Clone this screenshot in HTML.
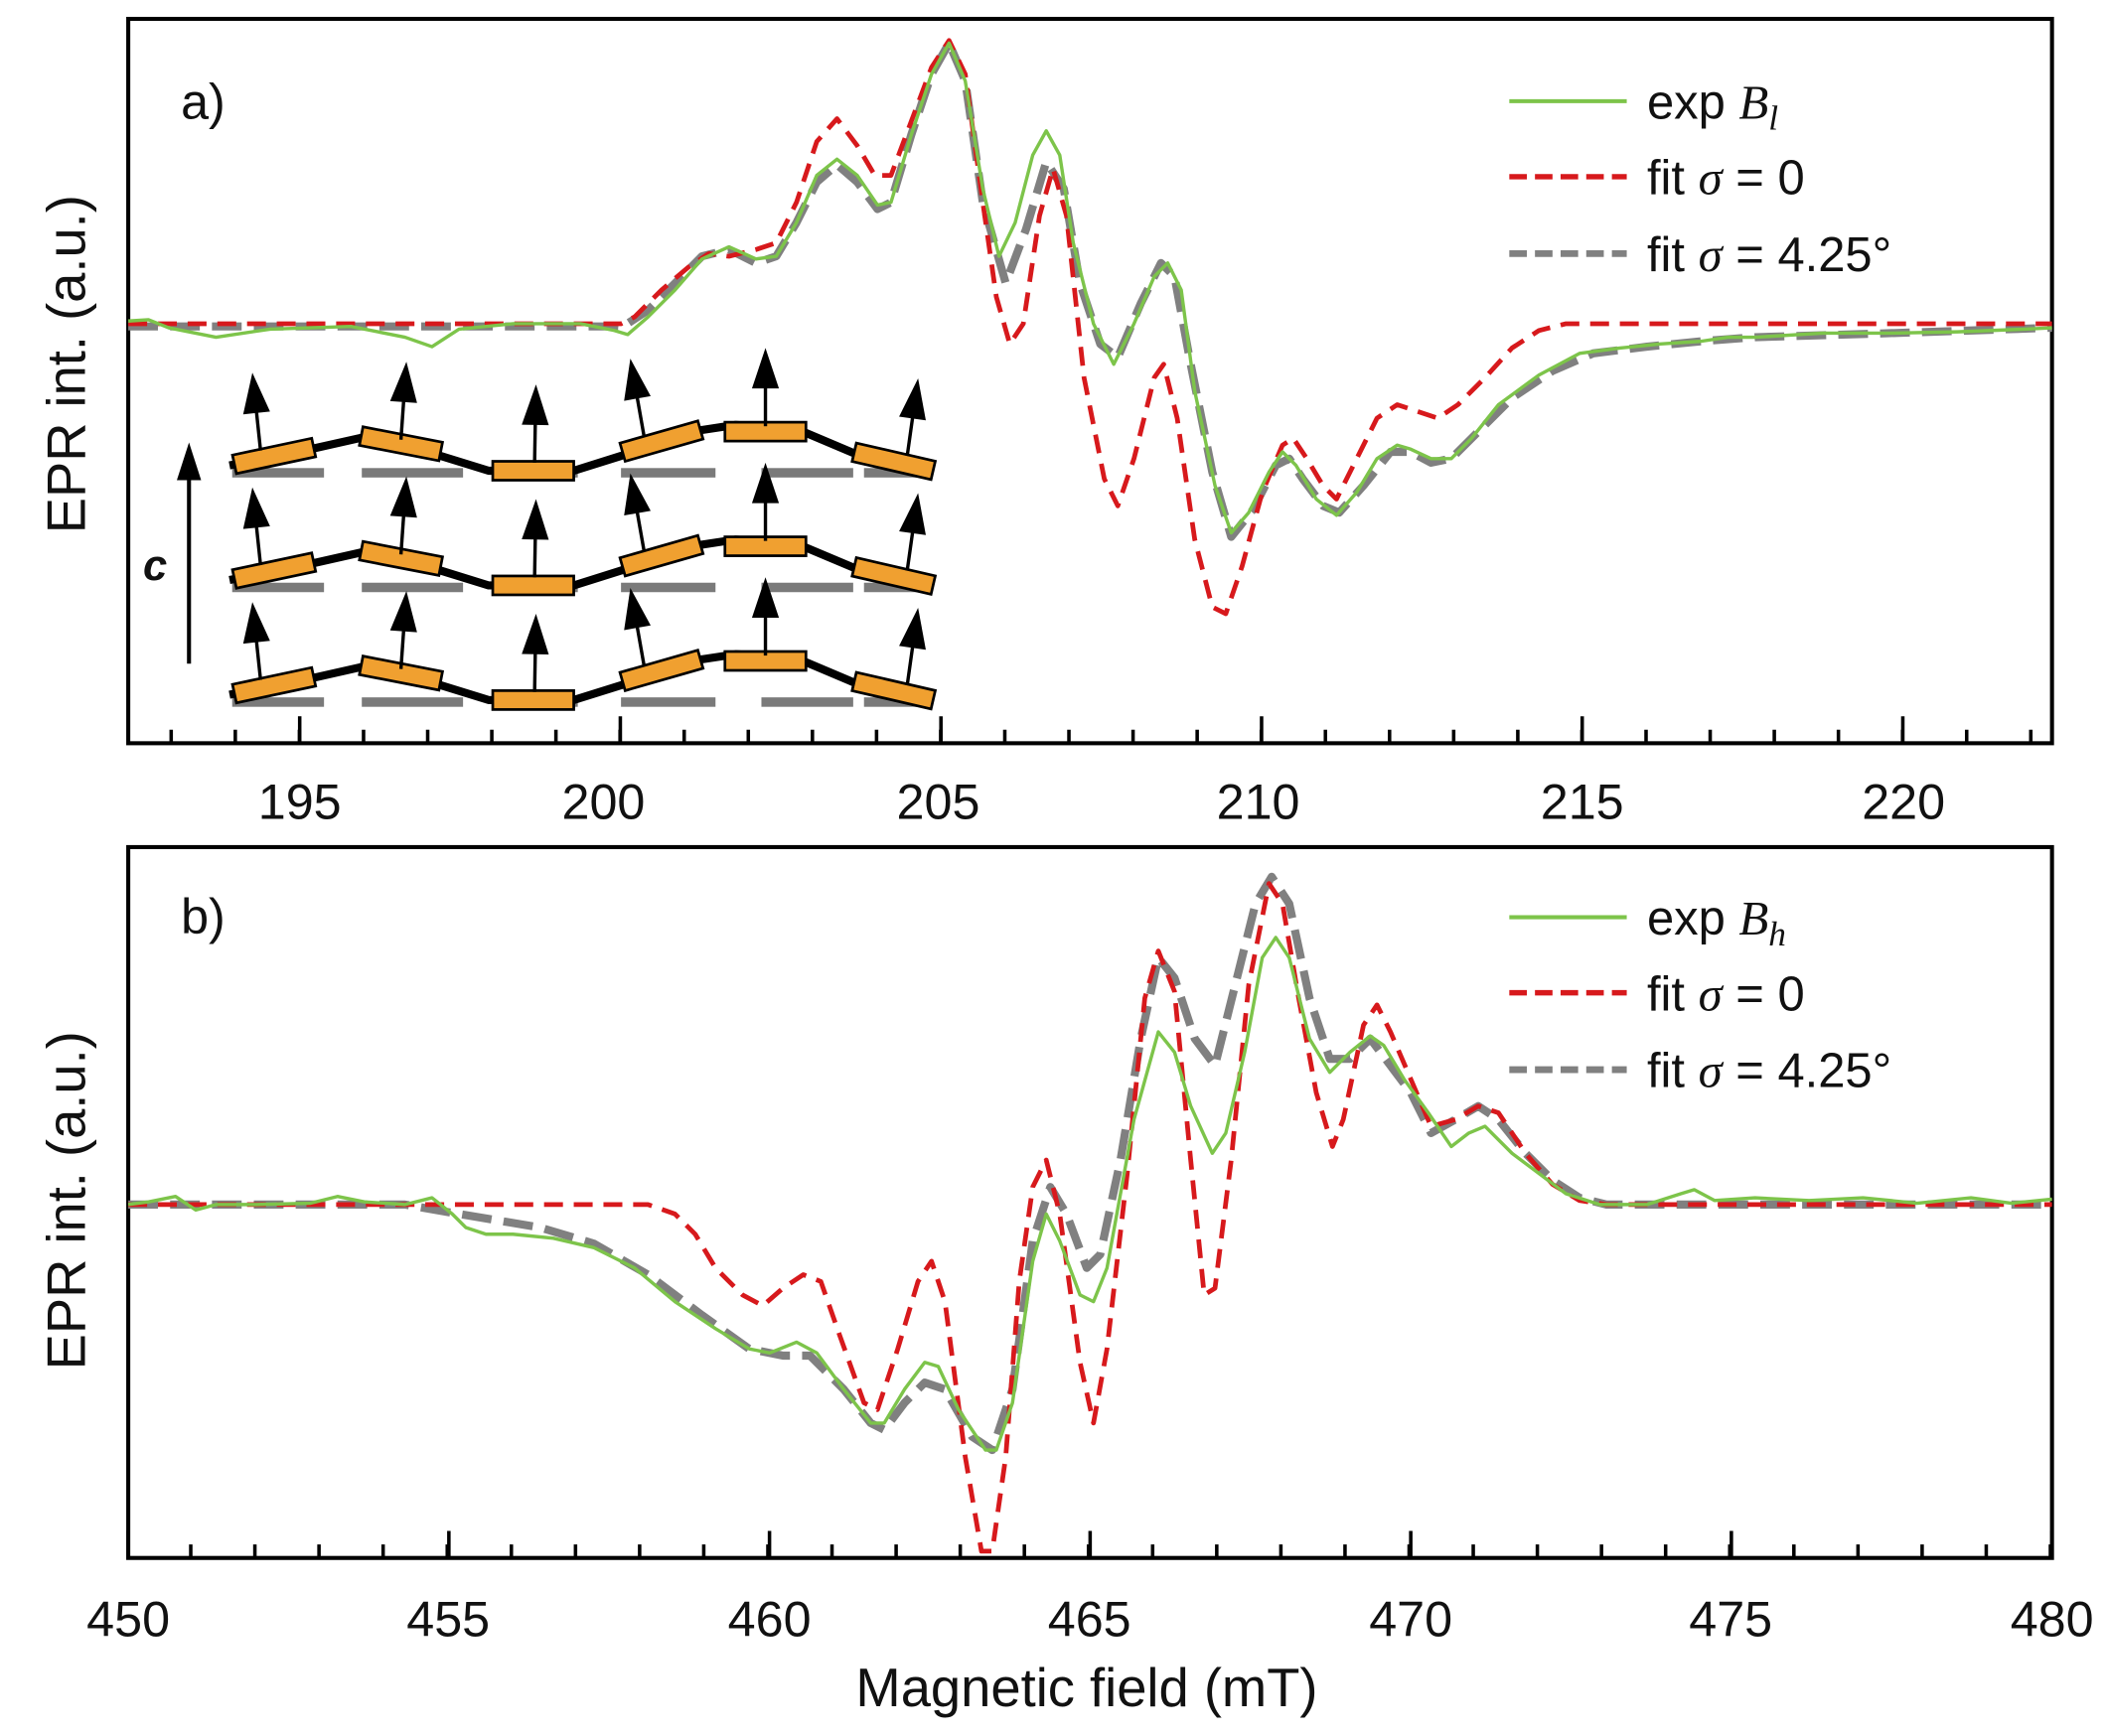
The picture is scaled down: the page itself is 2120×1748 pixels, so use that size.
<!DOCTYPE html>
<html><head><meta charset="utf-8"><style>
html,body{margin:0;padding:0;background:#fff}
svg{display:block}
text{font-family:"Liberation Sans",sans-serif;fill:#111}
</style></head><body>
<svg width="2120" height="1748" viewBox="0 0 1560 1287" preserveAspectRatio="none" xmlns="http://www.w3.org/2000/svg">
<defs>
<g id="arrow">
<line x1="0" y1="0" x2="0" y2="-36" stroke="#000" stroke-width="2.5"/>
<polygon points="-10,-28 10,-28 0,-58" fill="#000"/>
</g>
<g id="row">
<g fill="#7a7a7a">
<rect x="172" y="347" width="68" height="7"/><rect x="268" y="347" width="75" height="7"/>
<rect x="368" y="347" width="60" height="7"/><rect x="460" y="347" width="70" height="7"/>
<rect x="564" y="347" width="68" height="7"/><rect x="640" y="347" width="50" height="7"/>
</g>
<polyline points="170,345 230,333 270,324 320,336 362,349 425,349 460,338 512,320 545,315 590,318 635,337 690,348" fill="none" stroke="#000" stroke-width="6" stroke-linejoin="round"/>
<g fill="#f0a030" stroke="#000" stroke-width="2">
<rect x="-30" y="-7" width="60" height="14" transform="translate(203,338) rotate(-12)"/>
<rect x="-30" y="-7" width="60" height="14" transform="translate(297,329) rotate(11)"/>
<rect x="-30" y="-7" width="60" height="14" transform="translate(395,349)"/>
<rect x="-30" y="-7" width="60" height="14" transform="translate(490,327) rotate(-16)"/>
<rect x="-30" y="-7" width="60" height="14" transform="translate(567,320)"/>
<rect x="-30" y="-7" width="60" height="14" transform="translate(662,342) rotate(13)"/>
</g>
<use href="#arrow" transform="translate(193,334) rotate(-6)"/>
<use href="#arrow" transform="translate(297,326) rotate(4)"/>
<use href="#arrow" transform="translate(396,343) rotate(1)"/>
<use href="#arrow" transform="translate(477,323) rotate(-10)"/>
<use href="#arrow" transform="translate(567,316)"/>
<use href="#arrow" transform="translate(672,338) rotate(8)"/>
</g>
</defs>

<!-- Panel a -->
<rect x="95" y="14" width="1425" height="537" fill="none" stroke="#000" stroke-width="3"/>
<line x1="125.5" y1="546" x2="1520" y2="546" stroke="#000" stroke-width="10" stroke-dasharray="2.6 44.9"/>
<line x1="220.7" y1="541" x2="1520" y2="541" stroke="#000" stroke-width="20" stroke-dasharray="2.6 234.9"/>
<g font-size="37" text-anchor="middle">
<text x="222" y="607">195</text><text x="447" y="607">200</text><text x="695" y="607">205</text>
<text x="932" y="607">210</text><text x="1172" y="607">215</text><text x="1410" y="607">220</text>
</g>
<text x="134" y="88" font-size="37">a)</text>
<text transform="translate(63,270) rotate(-90)" font-size="40" text-anchor="middle">EPR int. (a.u.)</text>

<use href="#row"/>
<use href="#row" transform="translate(0,85)"/>
<use href="#row" transform="translate(0,170)"/>
<line x1="140" y1="492" x2="140" y2="350" stroke="#000" stroke-width="3"/>
<polygon points="131,356 149,356 140,328" fill="#000"/>
<text x="106" y="430" font-size="32" font-weight="bold" font-style="italic">c</text>

<polyline fill="none" stroke="#808080" stroke-width="6" stroke-dasharray="22 9" stroke-linejoin="round" points="95,242 450,242 460,243 480,230 500,210 520,190 540,185 560,195 575,190 590,165 605,135 620,122 635,135 650,155 660,150 675,100 690,55 703,32 715,60 728,150 745,210 760,170 775,120 788,140 800,210 815,255 828,265 845,225 860,195 870,205 882,270 898,350 912,398 928,378 945,345 955,340 965,355 980,375 992,380 1010,360 1030,335 1045,335 1060,343 1075,340 1095,320 1120,295 1150,275 1180,262 1220,257 1260,253 1300,250 1400,247 1520,243"/>
<polyline fill="none" stroke="#d7191c" stroke-width="3.5" stroke-dasharray="14 8" stroke-linejoin="round" points="95,240 460,240 470,235 490,215 510,198 525,188 540,190 560,185 575,180 590,150 605,105 620,88 635,108 648,130 660,130 675,90 690,50 703,30 715,55 728,150 738,220 748,255 758,240 770,160 780,125 790,160 803,280 818,355 828,375 840,340 855,280 862,270 872,310 885,400 898,450 908,455 920,420 935,365 950,330 958,325 968,340 980,360 990,370 1005,340 1020,310 1035,300 1050,305 1065,310 1080,300 1100,280 1120,258 1140,245 1160,240 1520,240"/>
<polyline fill="none" stroke="#7dc44a" stroke-width="2.5" stroke-linejoin="round" points="95,238 110,237 125,243 160,250 200,244 260,242 300,250 320,257 340,244 380,240 430,240 455,245 465,248 480,235 500,215 520,192 540,183 560,192 575,190 590,165 605,130 620,118 635,130 650,152 660,150 675,100 690,55 703,32 715,60 728,140 740,190 752,165 765,115 775,97 785,115 795,180 810,240 825,270 840,240 855,205 865,195 875,215 885,290 900,360 912,395 925,380 940,350 950,335 960,345 975,370 990,382 1005,365 1020,340 1035,330 1045,333 1060,340 1075,340 1090,325 1110,300 1140,278 1170,262 1200,258 1230,255 1260,253 1280,250 1300,250 1350,247 1400,247 1450,246 1500,244 1520,243"/>

<g font-size="36">
<line x1="1118" y1="75" x2="1205" y2="75" stroke="#7dc44a" stroke-width="3"/>
<text x="1220" y="88">exp <tspan font-family="Liberation Serif,serif" font-style="italic">B<tspan font-size="26" dy="8">l</tspan></tspan></text>
<line x1="1118" y1="131" x2="1205" y2="131" stroke="#d7191c" stroke-width="4" stroke-dasharray="13 6"/>
<text x="1220" y="144">fit <tspan font-family="Liberation Serif,serif" font-style="italic">σ</tspan> = 0</text>
<line x1="1118" y1="188" x2="1205" y2="188" stroke="#808080" stroke-width="5" stroke-dasharray="13 6"/>
<text x="1220" y="201">fit <tspan font-family="Liberation Serif,serif" font-style="italic">σ</tspan> = 4.25°</text>
</g>

<!-- Panel b -->
<rect x="95" y="628" width="1425" height="527" fill="none" stroke="#000" stroke-width="3"/>
<line x1="140" y1="1150" x2="1520" y2="1150" stroke="#000" stroke-width="10" stroke-dasharray="2.6 44.9"/>
<line x1="93.7" y1="1145" x2="1522" y2="1145" stroke="#000" stroke-width="20" stroke-dasharray="2.6 234.9"/>
<g font-size="37" text-anchor="middle">
<text x="95" y="1213">450</text><text x="332" y="1213">455</text><text x="570" y="1213">460</text>
<text x="807" y="1213">465</text><text x="1045" y="1213">470</text><text x="1282" y="1213">475</text><text x="1520" y="1213">480</text>
</g>
<text x="805" y="1265" font-size="40" text-anchor="middle">Magnetic field (mT)</text>
<text x="134" y="692" font-size="37">b)</text>
<text transform="translate(63,890) rotate(-90)" font-size="40" text-anchor="middle">EPR int. (a.u.)</text>

<polyline fill="none" stroke="#808080" stroke-width="6" stroke-dasharray="22 9" stroke-linejoin="round" points="95,893 300,893 340,900 400,910 440,922 480,945 520,975 555,1000 580,1005 600,1005 625,1030 645,1055 655,1060 670,1040 685,1025 700,1030 720,1065 735,1075 750,1030 765,920 778,880 790,900 805,940 815,930 830,860 845,770 858,710 870,725 885,770 900,790 915,730 930,670 942,650 955,670 970,740 985,785 1000,785 1015,770 1030,790 1045,810 1060,840 1078,830 1095,820 1110,830 1130,855 1150,875 1170,888 1190,893 1520,893"/>
<polyline fill="none" stroke="#d7191c" stroke-width="3.5" stroke-dasharray="14 8" stroke-linejoin="round" points="95,893 480,893 500,900 515,915 530,940 550,960 565,968 580,955 595,945 608,950 622,990 640,1040 650,1045 665,1000 680,950 690,935 700,965 715,1080 727,1150 735,1150 745,1080 755,950 765,880 775,860 785,900 800,1010 810,1055 820,1000 835,870 848,740 858,705 870,735 882,860 892,960 900,955 912,860 925,730 940,655 950,670 962,740 975,810 987,850 995,830 1010,760 1020,745 1030,765 1045,800 1060,835 1078,830 1095,820 1110,825 1130,855 1150,878 1170,890 1190,893 1520,893"/>
<polyline fill="none" stroke="#7dc44a" stroke-width="2.5" stroke-linejoin="round" points="95,893 110,891 130,887 145,897 160,893 190,893 230,892 250,887 270,891 300,893 320,888 335,900 345,910 360,915 380,915 410,918 440,925 470,940 500,965 530,985 555,1000 570,1003 590,995 605,1003 625,1030 645,1055 655,1055 670,1030 685,1010 695,1013 710,1045 730,1075 738,1075 750,1040 765,935 775,900 785,920 800,960 810,965 820,940 840,830 858,765 870,780 882,820 898,855 908,840 922,780 935,710 945,695 955,710 970,770 985,795 1000,780 1015,768 1025,775 1040,800 1058,825 1075,850 1088,840 1100,835 1120,855 1140,870 1160,885 1185,893 1220,893 1245,885 1255,882 1270,890 1300,888 1340,890 1380,888 1420,892 1460,888 1490,892 1520,889"/>

<g font-size="36">
<line x1="1118" y1="680" x2="1205" y2="680" stroke="#7dc44a" stroke-width="3"/>
<text x="1220" y="693">exp <tspan font-family="Liberation Serif,serif" font-style="italic">B<tspan font-size="26" dy="8">h</tspan></tspan></text>
<line x1="1118" y1="736" x2="1205" y2="736" stroke="#d7191c" stroke-width="4" stroke-dasharray="13 6"/>
<text x="1220" y="749">fit <tspan font-family="Liberation Serif,serif" font-style="italic">σ</tspan> = 0</text>
<line x1="1118" y1="793" x2="1205" y2="793" stroke="#808080" stroke-width="5" stroke-dasharray="13 6"/>
<text x="1220" y="806">fit <tspan font-family="Liberation Serif,serif" font-style="italic">σ</tspan> = 4.25°</text>
</g>
</svg>
</body></html>
